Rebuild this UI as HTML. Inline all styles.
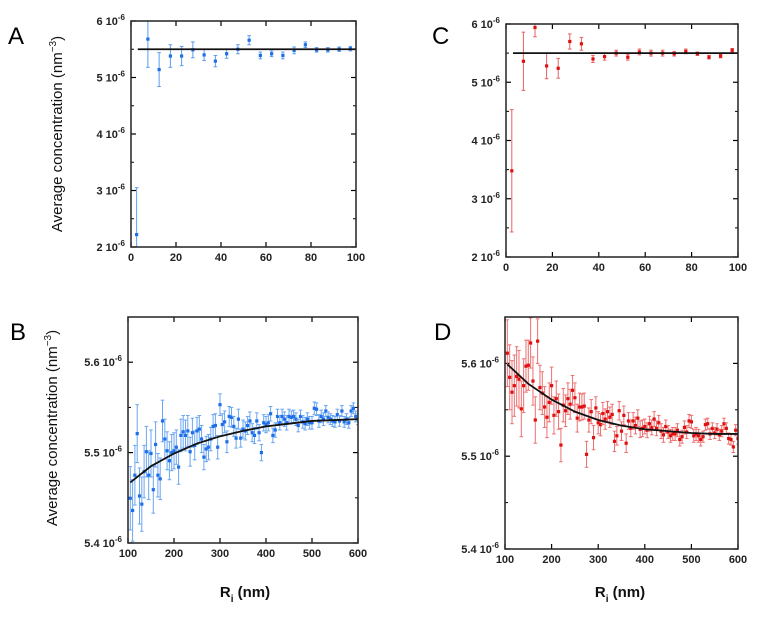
<!DOCTYPE html>
<html><head><meta charset="utf-8"><style>
body{margin:0;background:#fff;}
svg{display:block;font-family:"Liberation Sans",Arial,sans-serif;}
</style></head><body>
<svg id="fig" width="769" height="617" viewBox="0 0 769 617"></svg>
<script>
// ---- Panel A data (units 1e-6 nm^-3)
const xA = [2.5,7.5,12.5,17.5,22.5,27.5,32.5,37.5,42.5,47.5,52.5,57.5,62.5,67.5,72.5,77.5,82.5,87.5,92.5,97.5];
const yA = [2.22,5.68,5.14,5.38,5.38,5.49,5.40,5.29,5.42,5.50,5.66,5.39,5.42,5.39,5.48,5.58,5.49,5.49,5.50,5.51];
const eA = [0.83,0.50,0.30,0.20,0.17,0.14,0.10,0.10,0.08,0.08,0.08,0.06,0.05,0.06,0.06,0.05,0.04,0.04,0.04,0.04];
const fitA = 5.50;
// ---- Panel C data
const xC = [2.5,7.5,12.5,17.5,22.5,27.5,32.5,37.5,42.5,47.5,52.5,57.5,62.5,67.5,72.5,77.5,82.5,87.5,92.5,97.5];
const yC = [3.48,5.36,5.94,5.28,5.24,5.70,5.66,5.40,5.44,5.50,5.43,5.52,5.50,5.50,5.49,5.53,5.49,5.43,5.45,5.55];
const eC = [1.05,0.50,0.16,0.22,0.17,0.13,0.11,0.06,0.06,0.05,0.05,0.05,0.05,0.05,0.04,0.04,0.03,0.03,0.03,0.03];
const fitC = 5.50;
// ---- Panel B data (x: 105..600 step 5)
const yB = [5.4495,5.436,5.475,5.521,5.452,5.443,5.479,5.501,5.475,5.499,5.459,5.509,5.475,5.471,5.535,5.515,5.502,5.491,5.500,5.502,
5.506,5.484,5.519,5.523,5.519,5.524,5.501,5.522,5.508,5.524,5.526,5.515,5.495,5.504,5.506,5.515,5.529,5.530,5.506,5.553,
5.531,5.534,5.512,5.540,5.539,5.529,5.516,5.537,5.516,5.526,5.524,5.530,5.535,5.522,5.519,5.535,5.522,5.500,5.533,5.531,
5.533,5.543,5.519,5.525,5.540,5.533,5.540,5.537,5.533,5.540,5.539,5.540,5.537,5.530,5.540,5.534,5.532,5.537,5.533,5.533,
5.549,5.548,5.535,5.540,5.537,5.546,5.539,5.537,5.535,5.534,5.542,5.535,5.546,5.534,5.537,5.533,5.546,5.549,5.540,5.537];
const eB = [0.035,0.034,0.033,0.032,0.031,0.030,0.029,0.028,0.027,0.026,0.026,0.025,0.024,0.023,0.023,0.022,0.021,0.021,0.020,0.020,
0.019,0.019,0.018,0.018,0.017,0.017,0.016,0.016,0.016,0.015,0.015,0.015,0.014,0.014,0.014,0.013,0.013,0.013,0.013,0.012,
0.012,0.012,0.012,0.011,0.011,0.011,0.011,0.011,0.010,0.010,0.010,0.010,0.010,0.010,0.009,0.009,0.009,0.009,0.009,0.009,
0.009,0.008,0.008,0.008,0.008,0.008,0.008,0.008,0.008,0.008,0.007,0.007,0.007,0.007,0.007,0.007,0.007,0.007,0.007,0.007,
0.007,0.007,0.007,0.007,0.007,0.006,0.006,0.006,0.006,0.006,0.006,0.006,0.006,0.006,0.006,0.006,0.006,0.006,0.006,0.006];
const fitBx = [105,150,200,250,300,350,400,450,500,550,600];
const fitBy = [5.467,5.485,5.499,5.510,5.518,5.524,5.529,5.532,5.535,5.536,5.537];
// ---- Panel D data
const yD = [5.611,5.585,5.569,5.576,5.586,5.583,5.551,5.576,5.597,5.598,5.622,5.581,5.539,5.624,5.574,5.568,5.553,5.542,5.558,5.576,
5.544,5.562,5.548,5.512,5.555,5.549,5.562,5.556,5.571,5.563,5.541,5.553,5.553,5.554,5.502,5.539,5.548,5.520,5.552,5.536,
5.534,5.546,5.540,5.548,5.542,5.545,5.516,5.522,5.549,5.527,5.544,5.514,5.538,5.530,5.538,5.533,5.541,5.529,5.530,5.532,
5.528,5.535,5.531,5.540,5.530,5.536,5.527,5.523,5.532,5.526,5.522,5.524,5.524,5.528,5.518,5.521,5.531,5.526,5.538,5.537,
5.522,5.524,5.522,5.518,5.521,5.534,5.535,5.524,5.530,5.525,5.529,5.523,5.527,5.535,5.530,5.519,5.518,5.510,5.528,5.519];
const eD = [0.036,0.035,0.034,0.033,0.032,0.031,0.030,0.029,0.028,0.027,0.027,0.026,0.025,0.024,0.024,0.023,0.022,0.022,0.021,0.020,
0.020,0.019,0.019,0.018,0.018,0.017,0.017,0.016,0.016,0.016,0.015,0.015,0.014,0.014,0.014,0.013,0.013,0.013,0.012,0.012,
0.012,0.012,0.011,0.011,0.011,0.011,0.011,0.010,0.010,0.010,0.010,0.010,0.009,0.009,0.009,0.009,0.009,0.009,0.009,0.008,
0.008,0.008,0.008,0.008,0.008,0.008,0.008,0.008,0.007,0.007,0.007,0.007,0.007,0.007,0.007,0.007,0.007,0.007,0.007,0.007,
0.007,0.007,0.007,0.007,0.006,0.006,0.006,0.006,0.006,0.006,0.006,0.006,0.006,0.006,0.006,0.006,0.006,0.006,0.006,0.006];
const fitDx = [105,150,200,250,300,350,400,450,500,550,600];
const fitDy = [5.599,5.578,5.561,5.548,5.539,5.533,5.529,5.527,5.525,5.524,5.524];
const xBD = yB.map((_, i) => 105 + 5 * i);
const xTicksA = [0,20,40,60,80,100];
const yTicksA = [2,3,4,5,6];
const xTicksB = [100,200,300,400,500,600];
const yTicksB = [5.4,5.5,5.6];
const yTickLabelsA = ['2','3','4','5','6'];
const yTickLabelsB = ['5.4','5.5','5.6'];

const NS = 'http://www.w3.org/2000/svg';
const svg = document.getElementById('fig');
function el(tag, attrs, parent) {
  const e = document.createElementNS(NS, tag);
  for (const k in attrs) e.setAttribute(k, attrs[k]);
  (parent || svg).appendChild(e);
  return e;
}

function panel(cfg) {
  const g = el('g', {});
  
  
  const {l, r, t, b} = cfg.box;
  const sx = v => l + (v - cfg.xd[0]) / (cfg.xd[1] - cfg.xd[0]) * (r - l);
  const sy = v => b - (v - cfg.yd[0]) / (cfg.yd[1] - cfg.yd[0]) * (b - t);
  const L = el('text', {x: cfg.letter[0], y: cfg.letter[1], 'font-size': 24, fill: '#000'}, g);
  L.textContent = cfg.id;
  
  
  cfg.yt.forEach((v, i) => {
    const y = sy(v);
    el('line', {x1: l, x2: l + 5, y1: y, y2: y, stroke: '#000', 'stroke-width': 1.2}, g);
    el('line', {x1: r, x2: r - 5, y1: y, y2: y, stroke: '#000', 'stroke-width': 1.2}, g);
    if (i < cfg.yt.length - 1) {
      const ym = sy((v + cfg.yt[i + 1]) / 2);
      el('line', {x1: l, x2: l + 3, y1: ym, y2: ym, stroke: '#000', 'stroke-width': 1}, g);
      el('line', {x1: r, x2: r - 3, y1: ym, y2: ym, stroke: '#000', 'stroke-width': 1}, g);
    }
    const tx = el('text', {x: l - 6, y: y + 4, 'font-size': 11, 'font-weight': 'bold', 'text-anchor': 'end', fill: '#222'}, g);
    
    
    const s1 = el('tspan', {}, tx); s1.textContent = cfg.ytl[i] + ' 10';
    const s2 = el('tspan', {dy: -5, 'font-size': 8}, tx); s2.textContent = '-6';
  });
  cfg.xt.forEach(v => {
    const x = sx(v);
    el('line', {x1: x, x2: x, y1: b, y2: b - 5, stroke: '#000', 'stroke-width': 1.2}, g);
    el('line', {x1: x, x2: x, y1: t, y2: t + 5, stroke: '#000', 'stroke-width': 1.2}, g);
    const tx = el('text', {x: x, y: b + 14, 'font-size': 11, 'font-weight': 'bold', 'text-anchor': 'middle', fill: '#222'}, g);
    tx.textContent = v;
    
    
  });
  const cid = 'clip' + cfg.id;
  const cp = el('clipPath', {id: cid}, g);
  el('rect', {x: l, y: t, width: r - l, height: b - t}, cp);
  const dg = el('g', {'clip-path': 'url(#' + cid + ')'}, g);
  cfg.x.forEach((xv, i) => {
    const x = sx(xv), y = sy(cfg.y[i]);
    const y1 = sy(cfg.y[i] + cfg.e[i]), y2 = sy(cfg.y[i] - cfg.e[i]);
    const pg = el('g', {stroke: cfg.ec, 'stroke-width': 1}, dg);
    
    
    el('line', {x1: x, x2: x, y1: y1, y2: y2}, pg);
    el('line', {x1: x - 1.8, x2: x + 1.8, y1: y1, y2: y1}, pg);
    el('line', {x1: x - 1.8, x2: x + 1.8, y1: y2, y2: y2}, pg);
    el('rect', {x: x - 1.6, y: y - 1.6, width: 3.2, height: 3.2, fill: cfg.pc, stroke: 'none'}, pg);
  });
  const fit = el('polyline', {points: cfg.fx.map((x, i) => sx(x) + ',' + sy(cfg.fy[i])).join(' '), fill: 'none', stroke: '#111', 'stroke-width': 1.8}, dg);
  
  
  const box = el('rect', {x: l, y: t, width: r - l, height: b - t, fill: 'none', stroke: '#222', 'stroke-width': 1.5}, g);
  
  
  if (cfg.ytitle) {
    const [tx0, ty0] = cfg.ytitle;
    const yt = el('text', {x: tx0, y: ty0, 'font-size': 15, 'text-anchor': 'middle', transform: 'rotate(-90 ' + tx0 + ' ' + ty0 + ')', fill: '#111'}, g);
    
    
    const a = el('tspan', {}, yt); a.textContent = 'Average concentration (nm';
    const c = el('tspan', {dy: -6, 'font-size': 10}, yt); c.textContent = '−3';
    const d = el('tspan', {dy: 6}, yt); d.textContent = ')';
  }
  if (cfg.xtitle) {
    const [tx0, ty0] = cfg.xtitle;
    const xt = el('text', {x: tx0, y: ty0, 'font-size': 15, 'font-weight': 'bold', 'text-anchor': 'middle', fill: '#111'}, g);
    
    
    const a = el('tspan', {}, xt); a.textContent = 'R';
    const c = el('tspan', {dy: 5, 'font-size': 10}, xt); c.textContent = 'i';
    const d = el('tspan', {dy: -5}, xt); d.textContent = ' (nm)';
  }
}

panel({id: 'A', box: {l: 131, r: 356, t: 21, b: 247}, xd: [0, 100], yd: [2, 6], xt: xTicksA, yt: yTicksA, ytl: yTickLabelsA,
  x: xA, y: yA, e: eA, fx: [3, 100], fy: [fitA, fitA], ec: '#5b9cf0', pc: '#1f6fe8', letter: [8, 44], ytitle: [62, 134]});
panel({id: 'C', box: {l: 506, r: 738, t: 24, b: 257}, xd: [0, 100], yd: [2, 6], xt: xTicksA, yt: yTicksA, ytl: yTickLabelsA,
  x: xC, y: yC, e: eC, fx: [3, 100], fy: [fitC, fitC], ec: '#e86060', pc: '#e01010', letter: [432, 44]});
panel({id: 'B', box: {l: 128, r: 358, t: 317, b: 543}, xd: [100, 600], yd: [5.4, 5.65], xt: xTicksB, yt: yTicksB, ytl: yTickLabelsB,
  x: xBD, y: yB, e: eB, fx: fitBx, fy: fitBy, ec: '#6aa6f2', pc: '#1f6fe8', letter: [10, 340], ytitle: [57, 428], xtitle: [245, 597]});
panel({id: 'D', box: {l: 505, r: 738, t: 317, b: 549}, xd: [100, 600], yd: [5.4, 5.65], xt: xTicksB, yt: yTicksB, ytl: yTickLabelsB,
  x: xBD, y: yD, e: eD, fx: fitDx, fy: fitDy, ec: '#ec7070', pc: '#e01010', letter: [434, 340], xtitle: [620, 597]});
</script>
</body></html>
